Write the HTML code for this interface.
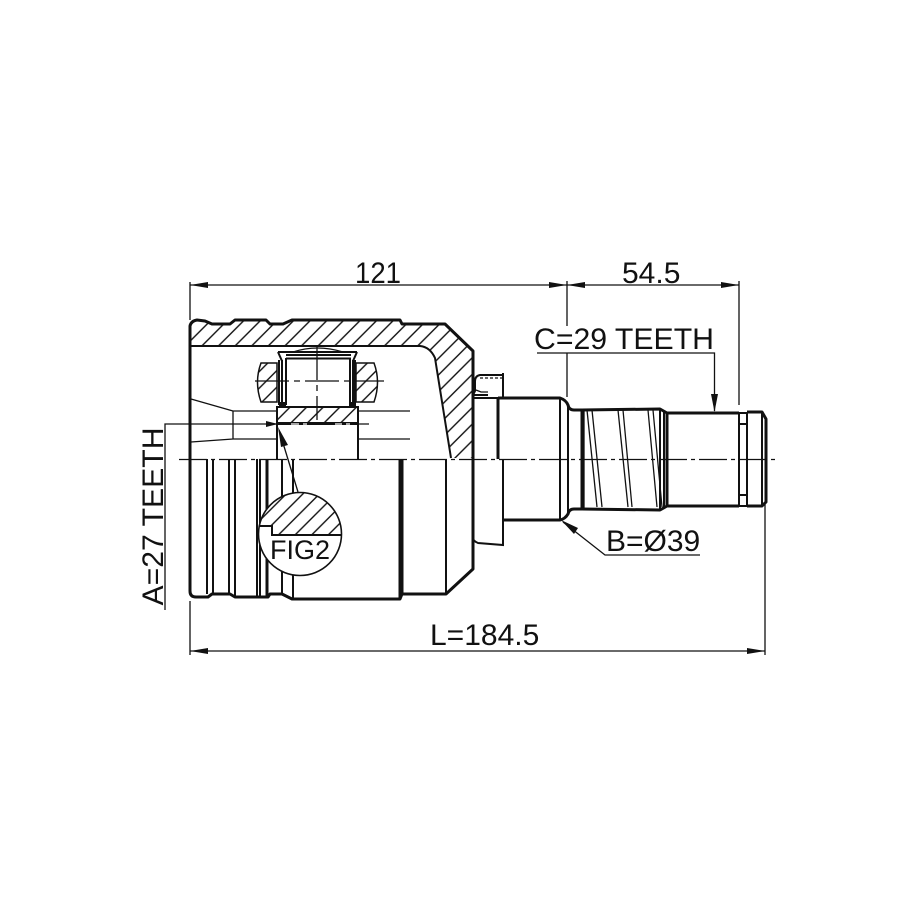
<!DOCTYPE html>
<html><head><meta charset="utf-8"><style>
html,body{margin:0;padding:0;background:#fff}
svg{display:block}
text{font-family:"Liberation Sans",sans-serif;fill:#111;font-size:30px}
.t{fill:none;stroke:#111;stroke-width:1.3}
.m{fill:none;stroke:#111;stroke-width:2}
.b{fill:none;stroke:#111;stroke-width:3;stroke-linejoin:round}
.c{fill:none;stroke:#111;stroke-width:1.3;stroke-dasharray:28 4 4 4}
.a{fill:#111;stroke:none}
</style></head><body>
<svg width="915" height="915" viewBox="0 0 915 915" xmlns="http://www.w3.org/2000/svg">
<defs>
<pattern id="h" patternUnits="userSpaceOnUse" width="16.6" height="16.6">
<path d="M-2 18.6L18.6 -2M-2 2L2 -2M14.6 18.6L18.6 14.6" stroke="#111" stroke-width="1.4" fill="none"/>
</pattern>
<clipPath id="circ"><circle cx="300" cy="534" r="42"/></clipPath>
</defs>
<rect width="915" height="915" fill="#fff"/>

<!-- housing hatching -->
<path d="M191 326Q192 321 197 320L205 321L212 324L230 324L235 320L266 320L270 324L283 324L292 320L400 320L402 324L445 324L472 351V458H451L435 358Q430 347 420 346H191Z" fill="url(#h)" stroke="none"/>
<path class="m" d="M191 346H420Q430 347 435 358L451 458"/>

<!-- housing outline -->
<path class="b" d="M190 459V326Q191 321 197 320L205 321L212 324L230 324L235 320L266 320L270 324L283 324L292 320L400 320L402 324L445 324L473 351V569L446 594H402L400 599H292L282 594H270L268 597H235L230 594H212L208 597H196Q190 597 190 591V459"/>

<!-- lower vertical lines -->
<path class="m" d="M207 459V594M213 459V594M229 459V594M235 459V597M257 459V597M260 459V597M282 459V594M293 459V599M446 459V594"/>
<path class="b" d="M267 459V597M400 459V599M402 459V594"/>

<!-- left internal lines -->
<path class="t" d="M191 399L233 411M191 442L233 439H277M233 411V439M233 411H277M358 411H410M358 439H410M358 424H369"/>

<!-- needle bearing block -->
<path d="M261 363H277V402H261Q254 382 261 363Z" style="fill:url(#h);stroke:#111;stroke-width:1.5"/>
<path d="M356 363H374Q381 382 374 402H356Z" style="fill:url(#h);stroke:#111;stroke-width:1.5"/>
<path class="m" d="M279 360V405M282 360V405M286 358V405M350 358V405M353 360V405M355 360V405M286 355H351M286 358.500H351M278 352H357"/>
<path class="m" d="M278 352L282 361M357 352L353 361"/>
<path class="t" d="M293 352Q317 344 343 352"/>
<rect x="279" y="402" width="7" height="5" fill="#111"/>
<rect x="349" y="402" width="7" height="5" fill="#111"/>
<path class="t" d="M255 381H384M317 346V420" stroke-dasharray="34 5 6 5"/>

<!-- spline hub -->
<rect x="277" y="407" width="81" height="15" fill="url(#h)" stroke="none"/>
<path class="m" d="M277 407H358V424H277Z"/>
<path class="b" d="M278 423.500H358"/>
<path d="M291 424H299M303 424H307M335 424H342M346 424H350" stroke="#fff" stroke-width="1.200" fill="none"/>
<path class="m" d="M277 424V459M358 424V459"/>

<!-- shaft -->
<path class="b" d="M498 398H560Q566 400 568 405Q569 410 574 410H582L660 409L667 413H739M747 412H762L766 419V502L762 506H747M739 506H667L660 510L582 509H574Q569 509 568 514Q565 519 560 520H503"/>
<path class="b" d="M498 398V459M667 413V506M582 409V509"/>
<path class="m" d="M503 459V520M503 520V545L478 543Q473 541 473 538M739 413V506M747 412V506M739 413H747M739 506H747M739 424H747M739 495H747M762 412V506M560 398V520M568 405V514M660 409V510M664 411V508M473 398H498"/>
<path class="t" d="M584 409V509"/>
<path class="t" d="M587 410L597 507M592 410L602 507M618 410L628 507M623 410L632 507M648 410L657 507M653 410L662 507"/>
<!-- seal clip -->
<path class="m" d="M503 373V397M502 375H480Q475 376 475 381V391L473 395H488"/>
<path class="t" d="M480 378H502" stroke-dasharray="3 2"/>
<path class="t" d="M476 390L481 392H488"/>

<!-- centre line -->
<path class="c" d="M179 459.500H777"/>

<!-- leader for FIG2 -->
<path class="t" d="M279 430L298 492"/>
<path class="a" d="M278 427L288 445L281 447Z"/>

<!-- FIG2 detail circle -->
<circle cx="300" cy="534" r="42" fill="#fff"/>
<g clip-path="url(#circ)">
<path d="M250 488H345V535H272V526H250Z" fill="url(#h)"/>
<path class="m" d="M256 526H272V535H345"/>
</g>
<circle class="t" cx="300" cy="534" r="41.500" style="stroke-width:1.600"/>
<text x="270" y="559" style="font-size:27px">FIG2</text>

<!-- dimensions -->
<path class="t" d="M190 282V320M567 281V326M567 353V397M739 281V405M190 601V655M765 504V655"/>
<path class="t" d="M190 285H567M567 285H739M190 651H765"/>
<path class="a" d="M190 285L208 282V288ZM567 285L549 282V288ZM567 285L585 282V288ZM739 285L721 282V288ZM190 651L208 648V654ZM765 651L747 648V654Z"/>
<text x="355" y="283" textLength="46" lengthAdjust="spacingAndGlyphs">121</text>
<text x="622" y="283">54.5</text>
<text x="430" y="645">L=184.5</text>
<text x="534" y="349" textLength="180" lengthAdjust="spacingAndGlyphs">C=29 TEETH</text>
<path class="t" d="M537 353H714.500V411"/>
<path class="a" d="M714.500 412L711 394H718Z"/>
<text x="606" y="551">B=Ø39</text>
<path class="t" d="M700 555H605L563 522"/>
<path class="a" d="M561 520L578 528L574 534Z"/>
<text transform="translate(163 605.500) rotate(-90)" textLength="178" lengthAdjust="spacingAndGlyphs">A=27 TEETH</text>
<path class="t" d="M165 610V424H278"/>
<path class="a" d="M278 424L266 421V427Z"/>
</svg>
</body></html>
